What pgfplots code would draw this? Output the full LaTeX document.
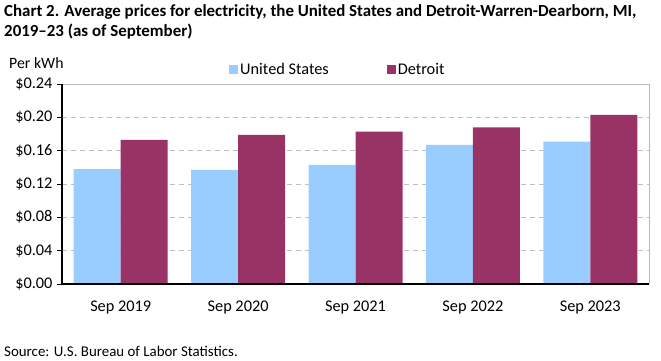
\documentclass[border=0pt]{standalone}
\usepackage{pgfplots}
\pgfplotsset{compat=1.18}
\usepackage{fontspec}
\setmainfont{Carlito}
\definecolor{usblue}{HTML}{99CCFF}
\definecolor{detred}{HTML}{993366}
\begin{document}%
\begin{tikzpicture}[x=1bp,y=1bp,font=\fontsize{16.3bp}{19bp}\selectfont]
\useasboundingbox (0,0) rectangle (661,360);
\node[anchor=north west,align=left,font=\bfseries\fontsize{16.9bp}{20bp}\selectfont,inner sep=0pt] at (4,356) {Chart 2. Average prices for electricity, the United States and Detroit-Warren-Dearborn, MI,\\2019--23 (as of September)};
\node[anchor=west,inner sep=0pt,font=\fontsize{15.8bp}{18bp}\selectfont] at (9,297) {Per kWh};
\node[anchor=west,inner sep=0pt,font=\fontsize{14.9bp}{17bp}\selectfont] at (4,9) {Source: U.S. Bureau of Labor Statistics.};
\begin{axis}[
  at={(62bp,76bp)}, anchor=south west,
  width=587bp, height=200bp, scale only axis,
  ybar=0pt, bar width=47bp,
  xmin=-0.5, xmax=4.5, ymin=0, ymax=0.24,
  xtick=data, xticklabels={Sep 2019,Sep 2020,Sep 2021,Sep 2022,Sep 2023},
  x tick style={draw=none},
  ytick pos=left,
  ytick={0,0.04,0.08,0.12,0.16,0.20,0.24},
  yticklabel={\$\pgfmathprintnumber[fixed,fixed zerofill,precision=2]{\tick}},
  /pgf/number format/assume math mode=true,
  y tick style={black, line width=0.8pt},
  tick align=outside, major tick length=5bp,
  ymajorgrids, grid style={gray!50, line width=0.8pt, dash pattern=on 5bp off 4bp},
  axis line style={draw=none},
  xticklabel style={yshift=-8bp},
  yticklabel style={xshift=-1bp},
  legend style={at={(0.2845,1.07)}, anchor=west, draw=none, legend columns=2, inner sep=0pt,
    /tikz/every even column/.append style={column sep=56bp},
    nodes={inner sep=2bp}},
  legend image code/.code={\fill[#1] (0bp,-4.5bp) rectangle (9bp,4.5bp);},
  clip=false,
]
\draw[gray!55, line width=0.8pt] (axis cs:-0.5,0.24) -- (axis cs:4.5,0.24) -- (axis cs:4.5,0);
\addplot[fill=usblue, draw=none] coordinates {(0,0.138) (1,0.137) (2,0.143) (3,0.167) (4,0.171)};
\addplot[fill=detred, draw=none] coordinates {(0,0.173) (1,0.179) (2,0.183) (3,0.188) (4,0.203)};
\legend{United States, Detroit}
\draw[black, line width=1.2pt] (axis cs:-0.5,0.24) -- (axis cs:-0.5,0) -- (axis cs:4.5,0);
\end{axis}
\end{tikzpicture}%
\end{document}
